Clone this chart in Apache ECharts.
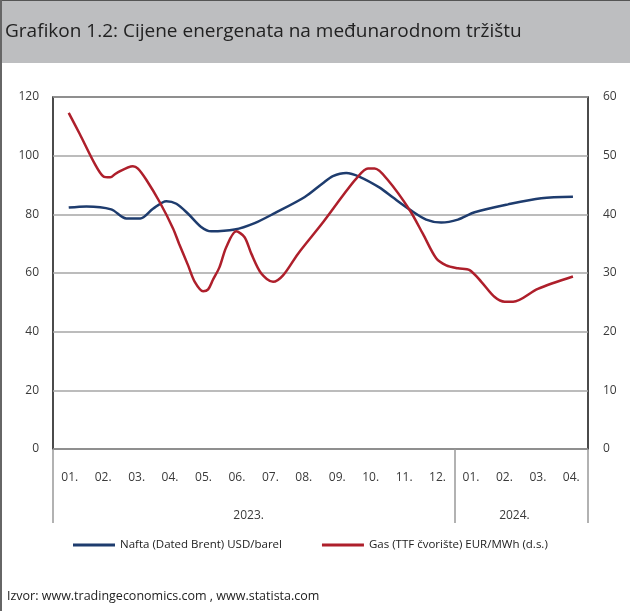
<!DOCTYPE html>
<html>
<head>
<meta charset="utf-8">
<script src="https://cdn.jsdelivr.net/npm/echarts@6.0.0/dist/echarts.min.js"></script>
<style>
  html, body { margin: 0; padding: 0; background: #fff; }
  #chart { width: 630px; height: 611px; }
</style>
</head>
<body>
<div id="chart"></div>
<script>
// kategorije (mjeseci) i godine
const months = ['01.', '02.', '03.', '04.', '05.', '06.', '07.', '08.', '09.', '10.', '11.', '12.', '01.', '02.', '03.', '04.'];
const yearLabels = ['2023.', '2024.'];
const yearLabelPos = [5.85, 13.8];
const yearBreaks = [0, 12, 16];

// Nafta (Dated Brent) USD/barel - položaj u mjesecima od početka 2023.
const naftaPos = [0.47, 1.0, 1.74, 2.19, 2.61, 2.99, 3.39, 3.69, 4.04, 4.43, 4.73, 5.43, 6.03, 6.63, 7.53, 8.07, 8.37, 8.77, 9.17, 9.77, 10.17, 10.67, 11.16, 11.61, 12.11, 12.61, 13.61, 14.6, 15.55];
const naftaVal = [82.3, 82.7, 81.7, 78.6, 78.6, 81.9, 84.5, 83.6, 80.2, 75.7, 74.2, 74.8, 77.0, 80.4, 85.9, 90.6, 93.0, 94.1, 92.8, 89.1, 85.7, 81.6, 78.2, 77.2, 78.2, 80.7, 83.4, 85.5, 86.0];

// Gas (TTF čvorište) EUR/MWh - desna skala
const gasPos = [0.47, 0.8, 1.25, 1.5, 1.71, 1.89, 2.39, 2.54, 2.79, 3.19, 3.59, 3.77, 4.04, 4.24, 4.49, 4.64, 4.78, 4.98, 5.18, 5.48, 5.73, 5.93, 6.23, 6.58, 6.88, 7.33, 8.07, 8.67, 9.07, 9.42, 9.62, 10.02, 10.67, 11.06, 11.46, 11.76, 12.11, 12.46, 12.81, 13.21, 13.51, 13.76, 14.5, 15.55];
const gasVal = [57.3, 53.7, 48.6, 46.5, 46.3, 47.0, 48.2, 47.8, 45.9, 42.1, 37.6, 35.0, 31.3, 28.5, 26.9, 27.2, 28.8, 31.0, 34.4, 37.1, 36.1, 33.3, 29.9, 28.5, 29.6, 33.3, 38.6, 43.2, 46.1, 47.8, 47.8, 45.8, 40.7, 36.7, 32.5, 31.3, 30.8, 30.5, 28.5, 25.9, 25.1, 25.1, 27.3, 29.4];

const FONT = "'Open Sans', sans-serif";
const TXT = '#3a3a3a';

const chart = echarts.init(document.getElementById('chart'));

const option = {
    animation: false,
    textStyle: { fontFamily: FONT },
    graphic: [
        { type: 'rect', shape: { x: 0, y: 0, width: 630, height: 63 }, style: { fill: '#bdbec0' }, silent: true },
        { type: 'line', shape: { x1: 0, y1: 0.5, x2: 630, y2: 0.5 }, style: { stroke: '#555', lineWidth: 1 } },
        { type: 'line', shape: { x1: 1, y1: 0, x2: 1, y2: 611 }, style: { stroke: '#666', lineWidth: 2 } },
        {
            type: 'text', left: 5, top: 22,
            style: { text: 'Grafikon 1.2: Cijene energenata na međunarodnom tržištu', fill: '#222', font: '19px ' + FONT }
        },
        {
            type: 'text', left: 7, top: 590,
            style: { text: 'Izvor: www.tradingeconomics.com , www.statista.com', fill: '#222', font: '12.5px ' + FONT }
        }
    ],
    grid: {
        left: 53, right: 42, top: 97, bottom: 162,
        show: true, borderColor: '#111', borderWidth: 1.5, backgroundColor: 'transparent'
    },
    legend: {
        left: 68, top: 534,
        itemWidth: 42, itemHeight: 3, itemGap: 40,
        icon: 'rect',
        textStyle: { color: '#222', fontSize: 11.5, fontFamily: FONT },
        data: ['Nafta (Dated Brent) USD/barel', 'Gas (TTF čvorište) EUR/MWh (d.s.)']
    },
    xAxis: [
        { type: 'value', min: 0, max: 16, show: false },
        {
            type: 'category', data: months, position: 'bottom', boundaryGap: true,
            axisLine: { show: false }, axisTick: { show: false },
            axisLabel: { color: TXT, fontSize: 12, margin: 23, interval: 0 }
        },
        {
            type: 'value', min: 0, max: 16, position: 'bottom',
            axisLine: { show: false }, splitLine: { show: false },
            axisTick: { show: true, customValues: yearBreaks, length: 74, lineStyle: { color: '#999', width: 1.5 } },
            axisLabel: {
                customValues: yearLabelPos, color: TXT, fontSize: 12, margin: 61,
                formatter: (v) => yearLabels[yearLabelPos.indexOf(v)]
            }
        }
    ],
    yAxis: [
        {
            type: 'value', min: 0, max: 120, interval: 20, position: 'left',
            axisLine: { show: false }, axisTick: { show: false },
            axisLabel: { color: TXT, fontSize: 12, margin: 14, padding: [6, 0, 0, 0] },
            splitLine: { show: true, lineStyle: { color: '#a6a6a6', width: 1.5 } }
        },
        {
            type: 'value', min: 0, max: 60, interval: 10, position: 'right',
            axisLine: { show: false }, axisTick: { show: false },
            axisLabel: { color: TXT, fontSize: 12, margin: 15, padding: [6, 0, 0, 0] },
            splitLine: { show: false }
        }
    ],
    series: [
        {
            name: 'Nafta (Dated Brent) USD/barel', type: 'line',
            xAxisIndex: 0, yAxisIndex: 0,
            data: naftaPos.map((x, i) => [x, naftaVal[i]]),
            smooth: 0.3, showSymbol: false,
            lineStyle: { color: '#1e3c6e', width: 2.5 }, itemStyle: { color: '#1e3c6e' }
        },
        {
            name: 'Gas (TTF čvorište) EUR/MWh (d.s.)', type: 'line',
            xAxisIndex: 0, yAxisIndex: 1,
            data: gasPos.map((x, i) => [x, gasVal[i]]),
            smooth: 0.3, showSymbol: false,
            lineStyle: { color: '#ae1f2b', width: 2.5 }, itemStyle: { color: '#ae1f2b' }
        }
    ]
};

chart.setOption(option);
</script>
</body>
</html>
